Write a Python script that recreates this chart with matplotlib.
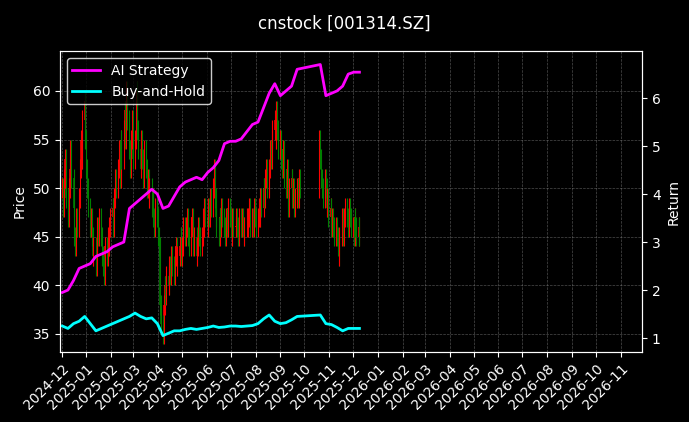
import matplotlib
matplotlib.use("Agg")
import matplotlib.pyplot as plt
import matplotlib.dates as mdates
import numpy as np
import pandas as pd

title = "cnstock [001314.SZ]"
seg1_start, seg1_end = "2024-12-02", "2025-09-25"
seg2_start, seg2_end = "2025-10-20", "2025-12-09"

closes = [
    50,48,51,53,49, 47,50,52,54,51, 48,45,44,47,46, 49,52,55,53,57,
    59,55,52,50,48, 46,47,45,43,44, 42,44,46,45,47, 45,43,42,41,44,
    43,45,44,46,47, 48,46,49,51,50, 52,54,51,55,53, 56,58,55,60,57,
    54,52,55,57,53, 55,58,60,56,54, 52,55,53,51,54, 52,50,51,49,50,
    48,49,47,46,48, 47,45,44,38,36, 35,38,40,39,41, 40,42,41,43,42,
    41,43,44,42,43, 44,45,43,44,46, 45,46,47,45,44, 46,47,45,44,45,
    43,44,46,45,44, 45,47,46,48,47, 46,48,47,49,48, 50,52,49,47,46,
    45,47,46,48,47, 46,45,47,46,48, 47,46,45,47,46, 46,47,46,45,47,
    46,47,46,45,46, 47,46,47,48,46, 47,46,48,47,46, 47,48,47,49,48,
    50,49,51,52,50, 52,54,53,55,56, 57,55,58,56,54, 55,53,52,54,51,
    50,52,49,48,50, 51,49,50,48,49, 50,49,51,50,
    55,53,51,50,49, 51,50,48,49,47, 48,46,47,46,45, 46,45,44,43,45,
    47,46,45,47,48, 47,46,48,47,46, 46,45,47,46,45, 46,45,
]
ai_weekly = [1.95,2.0,2.2,2.45,2.5,2.55,2.7,2.75,2.8,2.9,2.95,3.0,3.7,3.8,3.9,
             4.0,4.1,4.0,3.7,3.75,3.95,4.15,4.25,4.3,4.35,4.3,4.45,4.55,4.7,5.05,
             5.1,5.1,5.15,5.3,5.45,5.5,5.8,6.1,6.3,6.05,6.15,6.25,6.6,6.7,6.05,
             6.1,6.15,6.25,6.5,6.54,6.54]
bh_weekly = [1.25,1.2,1.3,1.35,1.45,1.3,1.15,1.2,1.25,1.3,1.35,1.4,1.45,1.52,1.45,
             1.4,1.42,1.3,1.05,1.1,1.15,1.15,1.18,1.2,1.18,1.2,1.22,1.25,1.22,1.23,
             1.25,1.25,1.24,1.25,1.26,1.3,1.4,1.48,1.35,1.3,1.32,1.38,1.45,1.48,1.3,
             1.28,1.22,1.15,1.2,1.2,1.2]

dates = pd.bdate_range(seg1_start, seg1_end).append(pd.bdate_range(seg2_start, seg2_end))
n = min(len(dates), len(closes))
dates = dates[:n]
c = np.array(closes[:n], dtype=float)
o = np.concatenate([[c[0]], c[:-1]])
hi = np.maximum(o, c) + 1.0
lo = np.minimum(o, c) - 1.0
wdates = dates[::5][:len(ai_weekly)]
m = len(wdates)

plt.rcParams['font.family'] = ['DejaVu Sans']
fig = plt.figure(figsize=(6.89, 4.22), dpi=100, facecolor="black")
ax = fig.add_axes([0.087, 0.166, 0.845, 0.713], facecolor="black")
x = mdates.date2num(dates)
up = c >= o
cols = np.where(up, "red", "green")
ax.vlines(x, lo, hi, colors=cols, linewidth=0.8)
ax.bar(x, np.maximum(np.abs(c - o), 0.1), bottom=np.minimum(o, c), width=0.7, color=cols, alpha=0.8)
ax.set_ylim(33.15, 64.1)
ax.set_xlim(mdates.datestr2num("2024-11-29"), mdates.datestr2num("2026-11-28"))
ax.set_ylabel("Price", color="white")
ax.grid(True, color="gray", linestyle="--", linewidth=0.5, alpha=0.6)
ax.xaxis.set_major_locator(mdates.MonthLocator())
ax.xaxis.set_major_formatter(mdates.DateFormatter("%Y-%m"))
plt.setp(ax.get_xticklabels(), rotation=45, ha="right", rotation_mode="anchor")

ax2 = ax.twinx()
ax2.plot(wdates, ai_weekly[:m], color="magenta", linewidth=2, label="AI Strategy")
ax2.plot(wdates, bh_weekly[:m], color="cyan", linewidth=2, label="Buy-and-Hold")
ax2.set_ylim(0.71, 6.98)
ax2.set_ylabel("Return", color="white")

for a in (ax, ax2):
    a.tick_params(colors="white")
    for s in a.spines.values():
        s.set_color("white")
leg = ax2.legend(loc="upper left", facecolor="black", edgecolor="white", labelcolor="white")
fig.suptitle(title, color="white", fontsize=12, y=0.965)
fig.savefig("out.png", facecolor="black")
